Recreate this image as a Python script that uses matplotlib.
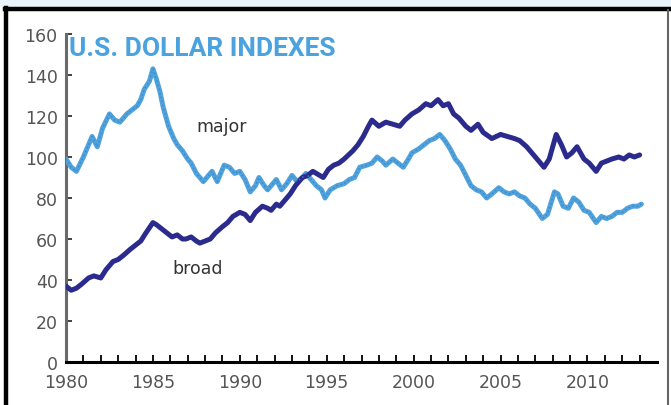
import numpy as np
import matplotlib
matplotlib.use("Agg")
import matplotlib.pyplot as plt
from matplotlib.lines import Line2D
from matplotlib.patches import Rectangle

# dollar index values (year, index level)
major_years = [1980.0, 1980.3, 1980.6, 1981.0, 1981.3, 1981.5, 1981.8, 1982.1, 1982.5, 1982.8,
               1983.1, 1983.5, 1983.8, 1984.1, 1984.3, 1984.5, 1984.8, 1985.0, 1985.2, 1985.4,
               1985.6, 1985.9, 1986.2, 1986.4, 1986.7, 1987.0, 1987.2, 1987.5, 1987.9, 1988.2,
               1988.4, 1988.7, 1989.1, 1989.4, 1989.7, 1990.0, 1990.3, 1990.6, 1990.9, 1991.1,
               1991.4, 1991.6, 1991.9, 1992.1, 1992.4, 1992.7, 1993.0, 1993.3, 1993.6, 1993.8,
               1994.1, 1994.4, 1994.7, 1994.9, 1995.2, 1995.6, 1996.0, 1996.3, 1996.6, 1996.9,
               1997.3, 1997.6, 1997.9, 1998.2, 1998.4, 1998.8, 1999.1, 1999.4, 1999.7, 1999.9,
               2000.3, 2000.6, 2000.9, 2001.2, 2001.5, 2001.8, 2002.1, 2002.4, 2002.7, 2003.0,
               2003.3, 2003.6, 2003.9, 2004.2, 2004.5, 2004.9, 2005.2, 2005.5, 2005.8, 2006.1,
               2006.4, 2006.7, 2007.0, 2007.4, 2007.7, 2008.1, 2008.3, 2008.6, 2008.9, 2009.2,
               2009.5, 2009.8, 2010.1, 2010.5, 2010.8, 2011.1, 2011.4, 2011.7, 2012.0, 2012.3,
               2012.6, 2012.9, 2013.1]
major_vals = [99, 95, 93, 100, 106, 110, 105, 114, 121, 118,
              117, 121, 123, 125, 128, 133, 137, 143, 138, 132,
              124, 115, 109, 106, 103, 99, 97, 92, 88, 91,
              93, 88, 96, 95, 92, 93, 89, 83, 86, 90,
              86, 84, 87, 89, 84, 87, 91, 88, 90, 92,
              89, 86, 84, 80, 84, 86, 87, 89, 90, 95,
              96, 97, 100, 98, 96, 99, 97, 95, 99, 102,
              104, 106, 108, 109, 111, 108, 104, 99, 96, 91,
              86, 84, 83, 80, 82, 85, 83, 82, 83, 81,
              80, 77, 75, 70, 72, 83, 82, 76, 75, 80,
              78, 74, 73, 68, 71, 70, 71, 73, 73, 75,
              76, 76, 77]

broad_years = [1980.0, 1980.3, 1980.6, 1980.9, 1981.3, 1981.6, 1982.0, 1982.3, 1982.7, 1983.0,
               1983.3, 1983.7, 1984.0, 1984.3, 1984.6, 1985.0, 1985.2, 1985.5, 1985.8, 1986.1,
               1986.4, 1986.7, 1986.9, 1987.2, 1987.5, 1987.7, 1988.0, 1988.3, 1988.6, 1989.0,
               1989.3, 1989.6, 1990.0, 1990.3, 1990.6, 1990.9, 1991.3, 1991.6, 1991.8, 1992.1,
               1992.3, 1992.6, 1992.9, 1993.2, 1993.6, 1993.9, 1994.2, 1994.4, 1994.8, 1995.1,
               1995.4, 1995.7, 1996.0, 1996.5, 1996.8, 1997.1, 1997.4, 1997.6, 1998.0, 1998.4,
               1998.8, 1999.2, 1999.5, 1999.9, 2000.3, 2000.7, 2001.0, 2001.4, 2001.7, 2002.0,
               2002.3, 2002.6, 2003.0, 2003.3, 2003.7, 2004.0, 2004.5, 2005.0, 2005.4, 2005.8,
               2006.1, 2006.5, 2006.8, 2007.1, 2007.5, 2007.8, 2008.2, 2008.5, 2008.8, 2009.1,
               2009.4, 2009.8, 2010.1, 2010.5, 2010.8, 2011.1, 2011.4, 2011.8, 2012.1, 2012.4,
               2012.7, 2013.0]
broad_vals = [37, 35, 36, 38, 41, 42, 41, 45, 49, 50,
              52, 55, 57, 59, 63, 68, 67, 65, 63, 61,
              62, 60, 60, 61, 59, 58, 59, 60, 63, 66,
              68, 71, 73, 72, 69, 73, 76, 75, 74, 77,
              76, 79, 82, 86, 90, 91, 93, 92, 90, 94,
              96, 97, 99, 103, 106, 110, 115, 118, 115, 117,
              116, 115, 118, 121, 123, 126, 125, 128, 125, 126,
              121, 119, 115, 113, 116, 112, 109, 111, 110, 109,
              108, 105, 102, 99, 95, 99, 111, 106, 100, 102,
              105, 99, 97, 93, 97, 98, 99, 100, 99, 101,
              100, 101]

year_ticks = np.arange(1980, 2014)
year_labels = [1980, 1985, 1990, 1995, 2000, 2005, 2010]
value_ticks = [0, 20, 40, 60, 80, 100, 120, 140, 160]

MAJOR_COLOR = "#4fa2dc"
BROAD_COLOR = "#2b2b8e"
TICK_GRAY = "#555555"

fig = plt.figure(figsize=(6.71, 4.06), dpi=100)
W, H = 671, 406

# frame pieces around the picture (pixel coords -> figure fraction)
fig.patches.append(Rectangle((0, 1 - 8 / H), 1, 8 / H, transform=fig.transFigure,
                             facecolor="#e8f4fb", edgecolor="none", zorder=0))
fig.lines.append(Line2D([5 / W, 1], [1 - 10 / H, 1 - 10 / H], transform=fig.transFigure,
                        color="black", lw=3.2))
fig.lines.append(Line2D([6 / W, 6 / W], [0, 1 - 9 / H], transform=fig.transFigure,
                        color="black", lw=3.2))
fig.lines.append(Line2D([668 / W, 668 / W], [0, 1 - 11 / H], transform=fig.transFigure,
                        color="#666666", lw=1.5))

ax = fig.add_axes([66 / W, 43 / H, 591 / W, 328 / H])
ax.set_xlim(1980, 2014)
ax.set_ylim(0, 160)

ax.plot(major_years, major_vals, color=MAJOR_COLOR, lw=3.6, solid_joinstyle="round",
        solid_capstyle="round", zorder=3)
ax.plot(major_years, major_vals, color="#3d86c6", lw=1.0, ls=(0, (1, 2)), zorder=4)
ax.plot(broad_years, broad_vals, color=BROAD_COLOR, lw=3.6, solid_joinstyle="round",
        solid_capstyle="round", zorder=3)

for side in ["top", "right"]:
    ax.spines[side].set_visible(False)
ax.spines["left"].set_color("#6a6a6a")
ax.spines["left"].set_linewidth(2.2)
ax.spines["bottom"].set_color("black")
ax.spines["bottom"].set_linewidth(2.2)
ax.spines["bottom"].set_bounds(1980, 2014)

ax.set_xticks(year_ticks, minor=True)
ax.set_xticks(year_labels)
ax.set_xticklabels([str(y) for y in year_labels])
ax.set_yticks(value_ticks)
ax.set_yticklabels([str(v) for v in value_ticks])
ax.tick_params(axis="x", which="both", direction="in", length=5, width=1.3,
               color="black", labelcolor=TICK_GRAY, labelsize=12.5, pad=8)
ax.tick_params(axis="y", direction="in", length=4, width=1.3, color="#333333",
               labelcolor=TICK_GRAY, labelsize=12.5, pad=6)

ax.text(1980.15, 153, "U.S. DOLLAR INDEXES", color="#4aa3df", fontsize=19,
        fontweight="bold", family=["Roboto", "DejaVu Sans"], ha="left", va="center")
ax.text(1987.5, 115, "major", color="#333333", fontsize=12.5, ha="left", va="center")
ax.text(1986.1, 46, "broad", color="#333333", fontsize=12.5, ha="left", va="center")

fig.savefig("out.png", dpi=100)
